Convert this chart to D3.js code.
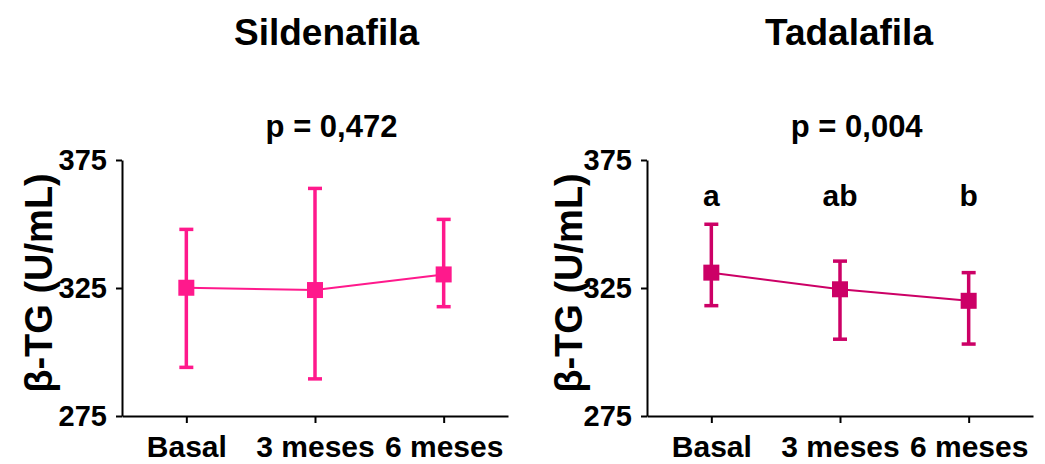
<!DOCTYPE html>
<html>
<head>
<meta charset="utf-8">
<script src="https://cdn.jsdelivr.net/npm/d3@7/dist/d3.min.js"></script>
<style>
  html, body { margin: 0; padding: 0; background: #ffffff; }
  svg { display: block; }
  text { font-family: "Liberation Sans", Arial, Helvetica, sans-serif; fill: #000; }
</style>
</head>
<body>
<svg id="chart" width="1045" height="464"></svg>
<script>
// ---- Data ----
const categories = ["Basal", "3 meses", "6 meses"];
const yTicks = [275, 325, 375];

const sildenafilaMean  = [325.1, 324.2, 330.3];
const sildenafilaUpper = [347.9, 363.9, 351.8];
const sildenafilaLower = [294.0, 289.5, 317.7];

const tadalafilaMean  = [331.0, 324.5, 320.0];
const tadalafilaUpper = [349.9, 335.5, 331.0];
const tadalafilaLower = [318.1, 305.0, 303.1];

const tadalafilaLetters = ["a", "ab", "b"];

const panelTitles = ["Sildenafila", "Tadalafila"];
const pValues = ["p = 0,472", "p = 0,004"];
const yLabel = "β-TG (U/mL)";

const panels = [
  { title: panelTitles[0], p: pValues[0], mean: sildenafilaMean, up: sildenafilaUpper, lo: sildenafilaLower,
    letters: null, color: "#ff198c", x0: 122, labelX: 52, titleX: 326.5, pX: 331.5 },
  { title: panelTitles[1], p: pValues[1], mean: tadalafilaMean, up: tadalafilaUpper, lo: tadalafilaLower,
    letters: tadalafilaLetters, color: "#cc0066", x0: 647, labelX: 582, titleX: 849, pX: 856.7 }
];

const svg = d3.select("#chart");
const plotW = 386, yTop = 160, yBot = 416;

const y = d3.scaleLinear().domain([275, 375]).range([yBot, yTop]);

panels.forEach(pn => {
  const g = svg.append("g");
  const x = d3.scalePoint().domain(categories).range([pn.x0, pn.x0 + plotW]).padding(0.5);

  // Y axis
  const ya = g.append("g").attr("transform", `translate(${pn.x0},0)`)
    .call(d3.axisLeft(y).tickValues(yTicks).tickSize(6).tickSizeOuter(0).tickPadding(9));
  ya.selectAll("path, line").attr("stroke", "#000").attr("stroke-width", 2);
  ya.selectAll("text").attr("font-size", 29).attr("font-weight", "bold")
    .attr("font-family", '"Liberation Sans", Arial, sans-serif').attr("fill", "#000");

  // X axis
  const xa = g.append("g").attr("transform", `translate(0,${yBot})`)
    .call(d3.axisBottom(x).tickSize(7).tickSizeOuter(0).tickPadding(13));
  xa.selectAll("path, line").attr("stroke", "#000").attr("stroke-width", 2);
  xa.selectAll("text").attr("font-size", 30).attr("font-weight", "bold")
    .attr("font-family", '"Liberation Sans", Arial, sans-serif').attr("fill", "#000");

  // Y label
  g.append("text")
    .attr("transform", `translate(${pn.labelX},${283}) rotate(-90)`)
    .attr("text-anchor", "middle")
    .attr("font-size", 38).attr("font-weight", "bold")
    .text(yLabel);

  // Title & p
  g.append("text").attr("x", pn.titleX).attr("y", 45).attr("text-anchor", "middle")
    .attr("font-size", 37).attr("font-weight", "bold").text(pn.title);
  g.append("text").attr("x", pn.pX).attr("y", 137).attr("text-anchor", "middle")
    .attr("font-size", 31).attr("font-weight", "bold").text(pn.p);

  const pts = categories.map((c, i) => ({ c, m: pn.mean[i], u: pn.up[i], l: pn.lo[i] }));

  // Connecting line
  g.append("path").datum(pts)
    .attr("d", d3.line().x(d => x(d.c)).y(d => y(d.m)))
    .attr("fill", "none").attr("stroke", pn.color).attr("stroke-width", 2);

  // Error bars
  const eb = g.append("g").attr("stroke", pn.color).attr("stroke-width", 3.5);
  eb.selectAll("line.v").data(pts).join("line")
    .attr("x1", d => x(d.c)).attr("x2", d => x(d.c))
    .attr("y1", d => y(d.u)).attr("y2", d => y(d.l));
  eb.selectAll("line.cu").data(pts).join("line")
    .attr("x1", d => x(d.c) - 7).attr("x2", d => x(d.c) + 7)
    .attr("y1", d => y(d.u)).attr("y2", d => y(d.u));
  eb.selectAll("line.cl").data(pts).join("line")
    .attr("x1", d => x(d.c) - 7).attr("x2", d => x(d.c) + 7)
    .attr("y1", d => y(d.l)).attr("y2", d => y(d.l));

  // Markers
  g.selectAll("rect.m").data(pts).join("rect")
    .attr("x", d => x(d.c) - 8).attr("y", d => y(d.m) - 8)
    .attr("width", 16).attr("height", 16).attr("fill", pn.color);

  // Letters
  if (pn.letters) {
    g.selectAll("text.let").data(pts).join("text")
      .attr("x", d => x(d.c)).attr("y", 206).attr("text-anchor", "middle")
      .attr("font-size", 30).attr("font-weight", "bold")
      .text((d, i) => pn.letters[i]);
  }
});
</script>
</body>
</html>
